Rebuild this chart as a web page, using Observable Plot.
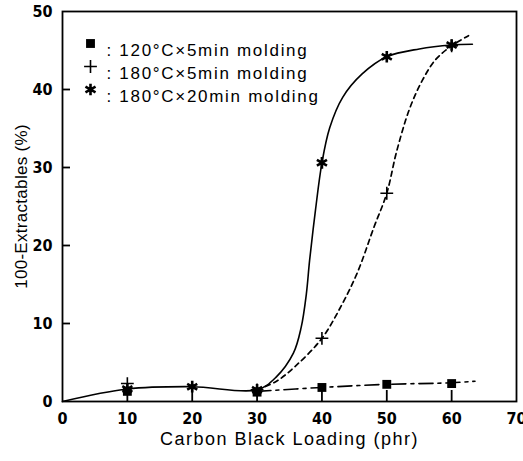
<!DOCTYPE html>
<html><head><meta charset="utf-8">
<script src="https://cdn.jsdelivr.net/npm/d3@7"></script>
<script src="https://cdn.jsdelivr.net/npm/@observablehq/plot@0.6"></script>
<style>
body{margin:0;background:#fff}
#chart svg{background:#fff}
#chart svg g[aria-label="x-axis tick label"],
#chart svg g[aria-label="y-axis tick label"]{
  font-family:'Liberation Sans Narrow','DejaVu Sans Condensed',sans-serif !important;
  font-stretch:condensed;font-weight:bold !important;font-size:16px !important}
</style>
</head><body><div id="chart"></div>
<script>
// Measured points: carbon black loading (phr) vs 100-extractables (%)
const loading = [10, 20, 30, 40, 50, 60];
const mold120x5 = [1.3, null, 1.2, 1.8, 2.2, 2.3];
const mold180x5 = [2.3, null, 1.5, 8.1, 26.7, 45.6];
const mold180x20 = [1.6, 1.9, 1.5, 30.6, 44.2, 45.7];

// Hand-drawn guide curves through the measurements
const guide120x5X = [30, 40, 50, 60, 63.6];
const guide120x5Y = [1.3, 1.8, 2.2, 2.4, 2.6];
const guide180x5X = [30, 33, 36, 40, 43, 45.5, 48, 50, 51.5, 53.5, 55.5, 57.5, 60, 62.6];
const guide180x5Y = [1.5, 2.6, 4.6, 8.1, 12.3, 16.6, 22.3, 26.7, 32, 37.5, 41.2, 43.8, 45.6, 46.9];
const guide180x20X = [0, 10, 20, 30, 32.9, 35.6, 36.8, 37.6, 38.1, 39.0, 40, 41.2, 43.2, 46.2, 50, 55, 60, 63.2];
const guide180x20Y = [0, 1.6, 1.9, 1.5, 3.1, 6.2, 9.5, 13.8, 18.1, 24.5, 30.6, 35.1, 39, 42, 44.2, 45.2, 45.7, 45.8];

// Axis ticks
const xLabels = [0, 10, 20, 30, 40, 50, 60, 70];
const yLabels = [0, 10, 20, 30, 40, 50];
const xTickMarks = [10, 20, 30, 40, 50, 60];
const yTickMarks = [10, 20, 30, 40];

const xTitle = "Carbon Black Loading (phr)";
const yTitle = "100-Extractables (%)";
const legendLabels = [": 120°C×5min molding", ": 180°C×5min molding", ": 180°C×20min molding"];

const zip = (xs, ys) => xs.map((x, i) => ({x, y: ys[i]})).filter(d => d.y != null);
const pts120x5 = zip(loading, mold120x5);
const pts180x5 = zip(loading, mold180x5);
const pts180x20 = zip(loading, mold180x20);

const W = 523, H = 461;
const mL = 62, mR = 7, mT = 11, mB = 60;
const xDomain = [0, 70], yDomain = [0, 50];
const frameW = W - mL - mR, frameH = H - mT - mB;
// inward tick lengths (11px up, 8px right) expressed in data units
const xTickLen = 11 * (yDomain[1] - yDomain[0]) / frameH;
const yTickLen = 8 * (xDomain[1] - xDomain[0]) / frameW;

const titleFont = {fontFamily: "'Liberation Sans', Arial, sans-serif", fontSize: 17};

// Marker drawers
const squareMark = (data, opts = {}) => Plot.dot(data, {symbol: "square", r: 5, fill: "black", stroke: "none", ...opts});
const plusMark = (data, opts = {}) => Plot.dot(data, {symbol: "plus", r: 4.2, stroke: "black", strokeWidth: 1.6, ...opts});
const starMarks = (data, opts = {}) => [
  Plot.dot(data, {symbol: "asterisk", r: 5.5, stroke: "black", strokeWidth: 2.6, ...opts}),
  Plot.dot(data, {r: 2.6, fill: "black", stroke: "none", ...opts})
];
const legendSymbols = [squareMark, plusMark, starMarks];

const plot = Plot.plot({
  width: W,
  height: H,
  marginLeft: mL,
  marginRight: mR,
  marginTop: mT,
  marginBottom: mB,
  x: {domain: xDomain},
  y: {domain: yDomain},
  marks: [
    // guide curves
    Plot.line(zip(guide180x20X, guide180x20Y), {x: "x", y: "y", curve: "catmull-rom", stroke: "black", strokeWidth: 1.6}),
    Plot.line(zip(guide180x5X, guide180x5Y), {x: "x", y: "y", curve: "catmull-rom", stroke: "black", strokeWidth: 1.7, strokeDasharray: "5,4"}),
    Plot.line(zip(guide120x5X, guide120x5Y), {x: "x", y: "y", curve: "catmull-rom", stroke: "black", strokeWidth: 1.6, strokeDasharray: "14,5,3,5"}),
    // inward tick marks
    Plot.ruleX(xTickMarks, {x: d => d, y1: yDomain[0], y2: yDomain[0] + xTickLen, stroke: "black", strokeWidth: 1.8}),
    Plot.ruleY(yTickMarks, {y: d => d, x1: xDomain[0], x2: xDomain[0] + yTickLen, stroke: "black", strokeWidth: 1.8}),
    // tick labels
    Plot.axisX({ticks: xLabels, tickSize: 0, tickPadding: 11, label: null}),
    Plot.axisY({ticks: yLabels, tickSize: 0, tickPadding: 10, label: null}),
    Plot.frame({stroke: "black", strokeWidth: 1.8}),
    // measurement markers
    squareMark(pts120x5, {x: "x", y: "y"}),
    plusMark(pts180x5, {x: "x", y: "y"}),
    ...starMarks(pts180x20, {x: "x", y: "y"}),
    // legend
    ...legendLabels.flatMap((label, i) => {
      const m = legendSymbols[i]([label], {frameAnchor: "top-left", dx: 28, dy: 32 + i * 23});
      return [
        ...(Array.isArray(m) ? m : [m]),
        Plot.text([label], {frameAnchor: "top-left", dx: 44, dy: 32 + i * 23, textAnchor: "start", text: d => d, fill: "black", ...titleFont})
      ];
    }),
    // axis titles
    Plot.text([xTitle], {frameAnchor: "bottom", dy: 43, textAnchor: "middle", text: d => d, fill: "black", ...titleFont, fontSize: 18}),
    Plot.text([yTitle], {frameAnchor: "left", dx: -41, rotate: -90, textAnchor: "middle", text: d => d, fill: "black", ...titleFont})
  ]
});
document.getElementById("chart").appendChild(plot);

// letter spacing for the legend entries and axis titles
const spacing = new Map([...legendLabels.map(l => [l, "1.7px"]), [xTitle, "1.5px"], [yTitle, "0.3px"]]);
d3.select(plot).selectAll("text").each(function() {
  const s = spacing.get(this.textContent);
  if (s) this.setAttribute("letter-spacing", s);
});
</script>
</body></html>
